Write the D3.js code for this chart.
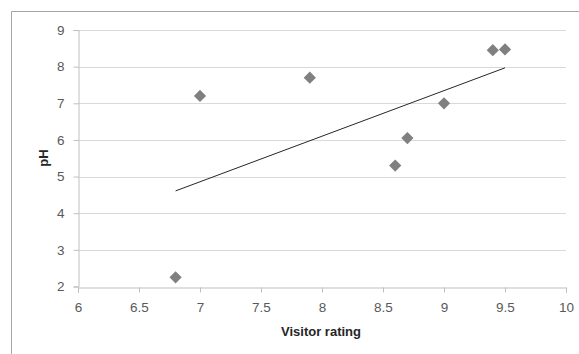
<!DOCTYPE html>
<html>
<head>
<meta charset="utf-8">
<script src="https://cdn.jsdelivr.net/npm/d3@7"></script>
<style>
    body { margin: 0; background: #fff; }
    svg { display: block; }
    text { font-family: "Liberation Sans", Arial, sans-serif; }
</style>
</head>
<body>
<svg id="chart" width="579" height="354"></svg>
<script>
// Visitor rating vs pH
var ratings = [6.8, 7, 7.9, 8.6, 8.7, 9, 9.4, 9.5];
var phValues = [2.25, 7.2, 7.7, 5.3, 6.05, 7, 8.45, 8.47];
var xTicks = [6, 6.5, 7, 7.5, 8, 8.5, 9, 9.5, 10];
var yTicks = [2, 3, 4, 5, 6, 7, 8, 9];

var svg = d3.select("#chart");

var plotLeft = 78, plotRight = 566, plotTop = 30, plotBottom = 286.5;

var x = d3.scaleLinear().domain([6, 10]).range([plotLeft, plotRight]);
var y = d3.scaleLinear().domain([2, 9]).range([plotBottom, plotTop]);

// outer frame (top and left edges visible)
svg.append("path")
    .attr("d", "M11.5,354 V11.5 H579")
    .attr("fill", "none")
    .attr("stroke", "#a6a6a6")
    .attr("stroke-width", 1);

// gridlines
svg.append("g")
    .selectAll("line")
    .data(yTicks.slice(1))
    .join("line")
    .attr("x1", plotLeft)
    .attr("x2", plotRight)
    .attr("y1", function (d) { return Math.round(y(d)) + 0.5; })
    .attr("y2", function (d) { return Math.round(y(d)) + 0.5; })
    .attr("stroke", "#d9d9d9");

var yAxis = d3.axisLeft(y)
    .tickValues(yTicks)
    .tickSize(5)
    .tickPadding(9)
    .tickFormat(d3.format("d"));

var xAxis = d3.axisBottom(x)
    .tickValues(xTicks)
    .tickSize(5)
    .tickPadding(10)
    .tickFormat(function (d) { return d3.format("")(d); });

var gy = svg.append("g")
    .attr("transform", "translate(" + (plotLeft + 0.5) + ",0)")
    .call(yAxis);

var gx = svg.append("g")
    .attr("transform", "translate(0," + (Math.round(plotBottom) + 0.5) + ")")
    .call(xAxis);

[gx, gy].forEach(function (g) {
    g.select(".domain").attr("stroke", "#bfbfbf");
    g.selectAll(".tick line").attr("stroke", "#bfbfbf");
    g.selectAll(".tick text")
        .attr("fill", "#595959")
        .style("font-size", "13.5px")
        .style("font-family", "'Liberation Sans', Arial, sans-serif");
});

// linear trendline over the data range
var mx = d3.mean(ratings), my = d3.mean(phValues);
var sxy = d3.sum(ratings, function (v, i) { return (v - mx) * (phValues[i] - my); });
var sxx = d3.sum(ratings, function (v) { return (v - mx) * (v - mx); });
var slope = sxy / sxx, intercept = my - slope * mx;
var x0 = d3.min(ratings), x1 = d3.max(ratings);

svg.append("line")
    .attr("x1", x(x0))
    .attr("y1", y(intercept + slope * x0))
    .attr("x2", x(x1))
    .attr("y2", y(intercept + slope * x1))
    .attr("stroke", "#262626")
    .attr("stroke-width", 1);

// diamond markers
var diamond = d3.symbol().type(d3.symbolDiamond2).size(95);
svg.append("g")
    .selectAll("path")
    .data(ratings)
    .join("path")
    .attr("d", diamond)
    .attr("transform", function (d, i) {
        return "translate(" + x(d) + "," + y(phValues[i]) + ")";
    })
    .attr("fill", "#808080");

// axis titles
svg.append("text")
    .attr("x", 321)
    .attr("y", 336)
    .attr("text-anchor", "middle")
    .style("font-size", "13px")
    .style("font-weight", "bold")
    .attr("fill", "#262626")
    .text("Visitor rating");

svg.append("text")
    .attr("transform", "translate(48,158) rotate(-90)")
    .attr("text-anchor", "middle")
    .style("font-size", "13px")
    .style("font-weight", "bold")
    .attr("fill", "#262626")
    .text("pH");
</script>
</body>
</html>
